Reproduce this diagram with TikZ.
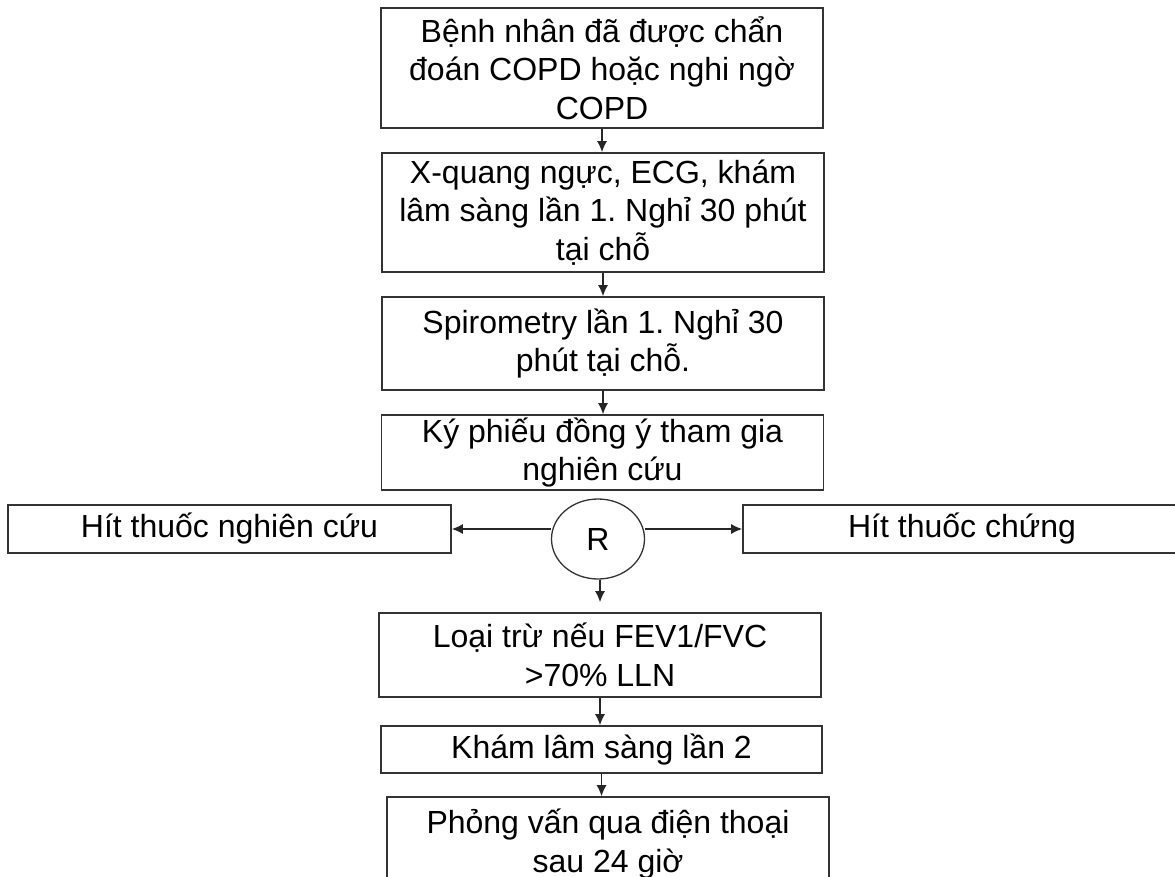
\documentclass[tikz,border=0pt]{standalone}
\usepackage{fontspec}
\setmainfont{Liberation Sans}
\frenchspacing
\usetikzlibrary{arrows.meta,shapes.geometric}

\begin{document}
\begin{tikzpicture}[
  x=1pt, y=-1pt,
  box/.style={draw=black!80, line width=1.6pt, minimum width=442pt, inner sep=0pt, align=center,
    font=\fontsize{32}{38.5}\selectfont},
  arrow/.style={-{Latex[length=11pt,width=10pt]}, draw=black!85, line width=1.4pt}
]
\useasboundingbox (0,0) rectangle (1175,877);
\clip (0,0) rectangle (1175,877);

% Main column (top to bottom)
\node[box, minimum height=120pt] (patient) at (602,68) {Bệnh nhân đã được chẩn\\đoán COPD hoặc nghi ngờ\\COPD};
\node[box, minimum height=119pt] (xray) at (603,212.5) {X-quang ngực, ECG, khám\\lâm sàng lần 1. Nghỉ 30 phút\\tại chỗ};
\node[box, minimum height=93pt] (spiro) at (603,343.5) {Spirometry lần 1. Nghỉ 30\\phút tại chỗ.};
\node[box, minimum height=75pt] (consent) at (602.5,452.5) {Ký phiếu đồng ý tham gia\\nghiên cứu};

% Randomisation
\node[ellipse, draw=black!80, line width=1.3pt, minimum width=93pt, minimum height=80pt, inner sep=0pt,
  font=\fontsize{32}{38}\selectfont] (rand) at (598,539) {R};
\node[box, minimum width=443pt, minimum height=48pt] (study) at (229.5,529) {Hít thuốc nghiên cứu};
\node[box, minimum width=438pt, minimum height=48pt] (control) at (962,529) {Hít thuốc chứng};

% Follow-up
\node[box, minimum height=84pt] (exclude) at (600,655) {Loại trừ nếu FEV1/FVC\\>70\% LLN};
\node[box, minimum width=441pt, minimum height=47pt] (visit) at (601.5,749.5) {Khám lâm sàng lần 2};
\node[box, minimum height=94pt] (phone) at (608,844) {Phỏng vấn qua điện thoại\\sau 24 giờ};

% Arrows
\draw[arrow] (patient.south) -- (patient.south |- xray.north);
\draw[arrow] (xray.south) -- (xray.south |- spiro.north);
\draw[arrow] (spiro.south) -- (spiro.south |- consent.north);
\draw[arrow] (rand.west |- study) -- (study);
\draw[arrow] (rand.east |- control) -- (control);
\draw[arrow, shorten >=10pt] ([xshift=2pt]rand.south) -- ([xshift=2pt]rand.south |- exclude.north);
\draw[arrow] (exclude.south) -- (exclude.south |- visit.north);
\draw[arrow] (visit.south) -- (visit.south |- phone.north);

\end{tikzpicture}
\end{document}
